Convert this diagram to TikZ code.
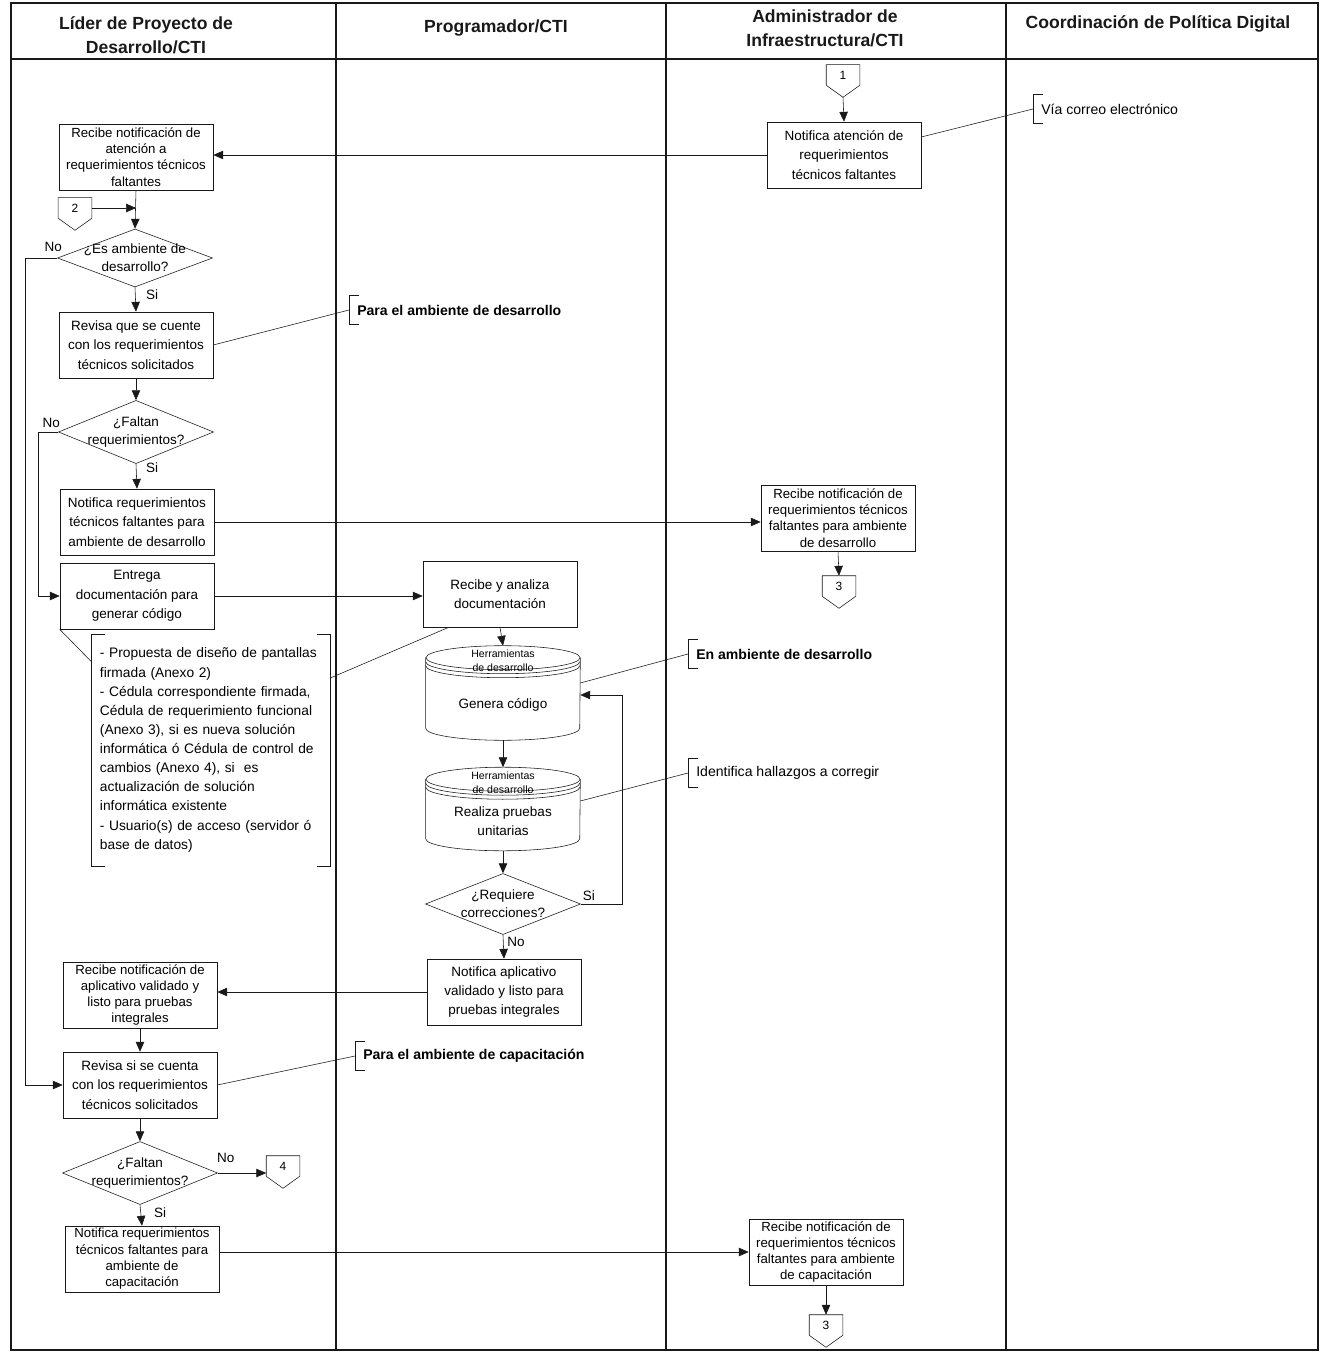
\documentclass[tikz,border=0pt]{standalone}
\usepackage{fontspec}
\setmainfont{Liberation Sans}
\usepackage{xcolor}
\usepackage{tikz}
\usetikzlibrary{shapes.geometric,arrows.meta,calc}
\definecolor{trazo}{RGB}{25,25,25}
\definecolor{papel}{RGB}{255,255,255}

\tikzset{
    encabezado/.style={font=\fontsize{12.5}{17}\selectfont\bfseries, align=center, text=trazo},
    proceso/.style={draw=trazo, fill=papel, minimum width=3.85cm, minimum height=1.65cm, inner sep=1pt, align=center, font=\fontsize{9.6}{13.8}\selectfont},
    proceso4/.style={proceso, font=\fontsize{9.4}{11.6}\selectfont},
    decision/.style={draw=trazo, diamond, minimum width=3.875cm, inner sep=0pt},
    pregunta/.style={align=center, inner sep=0pt, font=\fontsize{9.6}{13}\selectfont},
    cuerpo/.style={minimum width=3.85cm, inner sep=1pt, align=center, font=\fontsize{9.6}{13.8}\selectfont},
    herr/.style={align=center, inner sep=0pt, font=\fontsize{7.5}{10}\selectfont},
    conec/.style={minimum width=0.825cm, minimum height=0.5cm, inner sep=0pt, font=\fontsize{8.5}{9}\selectfont},
    nota/.style={anchor=west, minimum height=0.7cm, inner xsep=0.2cm, font=\fontsize{10}{12}\selectfont},
    notab/.style={nota, font=\fontsize{10}{12}\selectfont\bfseries},
    docs/.style={minimum height=5.775cm, text width=5.55cm, inner xsep=0.2cm, align=left, font=\fontsize{9.8}{13.6}\selectfont},
    etiq/.style={inner sep=1pt, font=\fontsize{9.6}{11}\selectfont},
    flecha/.style={draw=trazo, -{Triangle[length=7pt,width=6pt]}},
    liga/.style={draw=trazo}
}

\newcommand{\conector}[3]{%
    \node[conec] (#1) at (#2) {#3};
    \draw[trazo] (#1.north west) -- (#1.north east) -- (#1.south east) -- ([yshift=-0.3cm]#1.south) -- (#1.south west) -- cycle;
}
\newcommand{\corchete}[2]{%
    \draw[trazo] ([xshift=#2]#1.north west) -- (#1.north west) -- (#1.south west) -- ([xshift=#2]#1.south west);
}
\newcommand{\tambor}[1]{%
    \draw[trazo] ([yshift=0.3cm]#1.north west) -- ([yshift=0.3cm]#1.south west)
        arc[start angle=180, end angle=360, x radius=1.925cm, y radius=0.3cm] -- ([yshift=0.3cm]#1.north east);
    \draw[trazo] ([yshift=0.3cm]#1.north) ellipse [x radius=1.925cm, y radius=0.3cm];
    \draw[trazo] ([yshift=0.2cm]#1.north west) arc[start angle=180, end angle=360, x radius=1.925cm, y radius=0.3cm];
    \draw[trazo] ([yshift=0.1cm]#1.north west) arc[start angle=180, end angle=360, x radius=1.925cm, y radius=0.3cm];
    \node[herr] (#1-h) at ([yshift=0.22cm]#1.north) {Herramientas\\de desarrollo};
    \coordinate (#1-tope) at ([yshift=0.6cm]#1.north);
}

\begin{document}
\begin{tikzpicture}[x=0.025cm, y=0.025cm]
    \useasboundingbox (0,0) rectangle (1323,-1352);

    \draw[trazo, line width=1.2pt] (11,-3) rectangle (1318,-1350);
    \draw[trazo, line width=1.2pt] (11,-59) -- (1318,-59);
    \foreach \x in {336,666,1006} \draw[trazo, line width=0.9pt] (\x,-3) -- (\x,-1350);

    \node[encabezado] (lider) at (146,-35) {Líder de Proyecto de\\Desarrollo/CTI};
    \node[encabezado] (prog) at (496,-28) {Programador/CTI};
    \node[encabezado] (admin) at (825,-28) {Administrador de\\Infraestructura/CTI};
    \node[encabezado] (coord) at (1158,-24) {Coordinación de Política Digital};

    \conector{c1}{843,-75}{1}
    \node[proceso] (notAt) at (844,-155) {Notifica atención de\\requerimientos\\técnicos faltantes};
    \node[nota] (via) at (1033,-109) {Vía correo electrónico};
    \corchete{via}{0.25cm}
    \node[proceso4] (recAt) at (136,-157) {Recibe notificación de\\atención a\\requerimientos técnicos\\faltantes};
    \conector{c2}{75,-208}{2}
    \node[decision, minimum height=1.45cm, label={[pregunta]center:{¿Es ambiente de\\desarrollo?}}] (esAmb) at (135,-258) {};
    \node[proceso] (revDes) at (136,-345) {Revisa que se cuente\\con los requerimientos\\técnicos solicitados};
    \node[notab] (paraDes) at (349,-310) {Para el ambiente de desarrollo};
    \corchete{paraDes}{0.25cm}
    \node[decision, minimum height=1.58cm, label={[pregunta]center:{¿Faltan\\requerimientos?}}] (faltaDes) at (136,-432) {};
    \node[proceso] (notDes) at (137,-522) {Notifica requerimientos\\técnicos faltantes para\\ambiente de desarrollo};
    \node[proceso4] (recDes) at (838,-518) {Recibe notificación de\\requerimientos técnicos\\faltantes para ambiente\\de desarrollo};
    \conector{c3}{839,-586}{3}
    \node[proceso] (entrega) at (137,-596) {Entrega\\documentación para\\generar código};
    \node[proceso] (analiza) at (500,-594) {Recibe y analiza\\documentación};
    \node[docs] (anexos) at (211,-750) {- Propuesta de diseño de pantallas\\firmada (Anexo 2)\\- Cédula correspondiente firmada,\\Cédula de requerimiento funcional\\(Anexo 3), si es nueva solución\\informática ó Cédula de control de\\cambios (Anexo 4), si~ es\\actualización de solución\\informática existente\\- Usuario(s) de acceso (servidor ó\\base de datos)};
    \corchete{anexos}{0.33cm}
    \draw[trazo] ([xshift=-0.33cm]anexos.north east) -- (anexos.north east) -- (anexos.south east) -- ([xshift=-0.33cm]anexos.south east);

    \node[cuerpo, minimum height=1.75cm] (genera) at (503,-705) {Genera código};
    \tambor{genera}
    \node[notab] (enAmb) at (688,-654) {En ambiente de desarrollo};
    \corchete{enAmb}{0.25cm}
    \node[cuerpo, minimum height=1.475cm] (pruebas) at (503,-821) {Realiza pruebas\\unitarias};
    \tambor{pruebas}
    \node[nota] (hallazgos) at (688,-773) {Identifica hallazgos a corregir};
    \corchete{hallazgos}{0.25cm}
    \node[decision, minimum height=1.525cm, label={[pregunta]center:{¿Requiere\\correcciones?}}] (corrige) at (503,-904) {};
    \node[proceso] (valida) at (504,-992) {Notifica aplicativo\\validado y listo para\\pruebas integrales};

    \node[proceso4] (recVal) at (140,-995) {Recibe notificación de\\aplicativo validado y\\listo para pruebas\\integrales};
    \node[proceso] (revCap) at (140,-1085) {Revisa si se cuenta\\con los requerimientos\\técnicos solicitados};
    \node[notab] (paraCap) at (355,-1056) {Para el ambiente de capacitación};
    \corchete{paraCap}{0.25cm}
    \node[decision, minimum height=1.575cm, label={[pregunta]center:{¿Faltan\\requerimientos?}}] (faltaCap) at (140,-1173) {};
    \conector{c4}{283,-1166}{4}
    \node[proceso4] (notCap) at (142,-1259) {Notifica requerimientos\\técnicos faltantes para\\ambiente de\\capacitación};
    \node[proceso4] (recCap) at (826,-1252) {Recibe notificación de\\requerimientos técnicos\\faltantes para ambiente\\de capacitación};
    \conector{c3b}{826,-1325}{3}

    \draw[flecha] ([yshift=-0.3cm]c1.south) -- (notAt.north);
    \draw[flecha] (notAt.west) -- (notAt.west -| recAt.east);
    \draw[liga] ([yshift=0.45cm]notAt.east) -- (via.west);
    \draw[flecha] (recAt.south) -- (esAmb.north);
    \draw[flecha] (c2.east) -- (c2.east -| recAt.south);
    \draw[flecha] (esAmb.south) -- (revDes.north);
    \draw[flecha] (esAmb.west) -- ++(-32,0) |- (revCap.west);
    \draw[liga] (revDes.east) -- (paraDes.west);
    \draw[flecha] (revDes.south) -- (faltaDes.north);
    \draw[flecha] (faltaDes.south) -- (notDes.north);
    \draw[flecha] (faltaDes.west) -- ++(-20,0) |- (entrega.west);
    \draw[flecha] (notDes.east) -- (notDes.east -| recDes.west);
    \draw[flecha] (recDes.south) -- (c3.north);
    \draw[flecha] (entrega.east) -- (entrega.east -| analiza.west);
    \draw[liga] (entrega.south west) -- ([yshift=2.2cm]anexos.west);
    \draw[liga] ([yshift=1.8cm]anexos.east) -- ([xshift=0.65cm]analiza.south west);
    \draw[flecha] (analiza.south) -- (genera-tope);
    \draw[liga] ([yshift=0.55cm]genera.east) -- (enAmb.west);
    \draw[flecha] (genera.south) -- (pruebas-tope);
    \draw[liga] ([yshift=0.5cm]pruebas.east) -- (hallazgos.west);
    \draw[flecha] (pruebas.south) -- (corrige.north);
    \draw[flecha] (corrige.east) -- ++(41,0) |- ([yshift=0.25cm]genera.east);
    \draw[flecha] (corrige.south) -- (valida.north);
    \draw[flecha] (valida.west) -- (valida.west -| recVal.east);
    \draw[flecha] (recVal.south) -- (revCap.north);
    \draw[liga] (revCap.east) -- (paraCap.west);
    \draw[flecha] (revCap.south) -- (faltaCap.north);
    \draw[flecha] (faltaCap.east) -- (faltaCap.east -| c4.west);
    \draw[flecha] (faltaCap.south) -- (notCap.north);
    \draw[flecha] (recCap.west -| notCap.east) -- (recCap.west);
    \draw[flecha] (recCap.south) -- (c3b.north);

    \node[etiq] (no1) at ([shift={(-4,11)}]esAmb.west) {No};
    \node[etiq] (si1) at ([shift={(17,-7)}]esAmb.south) {Si};
    \node[etiq] (no2) at ([shift={(-7,9)}]faltaDes.west) {No};
    \node[etiq] (si2) at ([shift={(16,-4)}]faltaDes.south) {Si};
    \node[etiq] (si3) at ([shift={(8,8)}]corrige.east) {Si};
    \node[etiq] (no3) at ([shift={(13,-7)}]corrige.south) {No};
    \node[etiq] (no4) at ([shift={(8,15)}]faltaCap.east) {No};
    \node[etiq] (si4) at ([shift={(20,-8)}]faltaCap.south) {Si};
\end{tikzpicture}
\end{document}
